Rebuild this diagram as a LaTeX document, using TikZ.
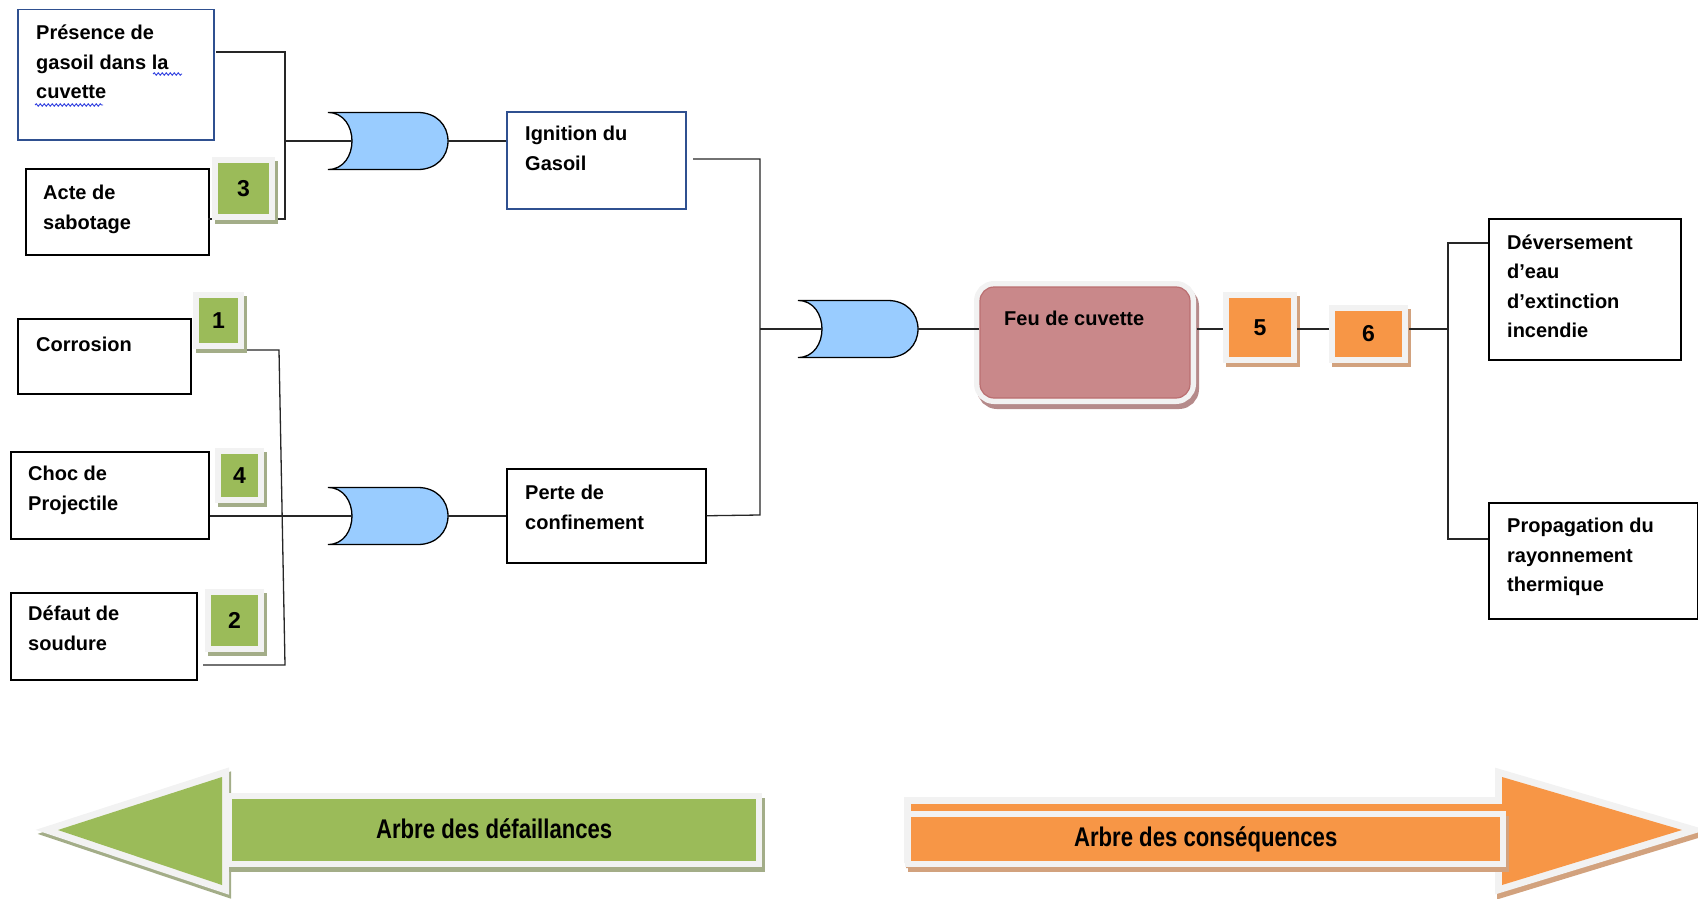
\documentclass[tikz,border=0pt]{standalone}
\usepackage{fontspec}
\setmainfont{Liberation Sans}
\newfontfamily\narrowfont[FakeStretch=0.82]{Liberation Sans}
\usetikzlibrary{decorations.pathmorphing}
\definecolor{gateblue}{HTML}{99CCFF}
\definecolor{boxblue}{HTML}{2F5090}
\definecolor{agreen}{HTML}{9BBB59}
\definecolor{aorange}{HTML}{F79646}
\definecolor{framegray}{HTML}{F2F2F2}
\definecolor{gshadow}{HTML}{A3AD88}
\definecolor{oshadow}{HTML}{D2A27E}
\definecolor{feupink}{HTML}{C9888A}
\definecolor{feuedge}{HTML}{BA6E70}
\definecolor{fshadow}{HTML}{B58A8A}
\definecolor{squig}{HTML}{3040E0}
\tikzset{
  wire/.style={draw=black!85, line width=1.3},
  box/.style={draw=black, line width=1.5, fill=white, inner sep=0, anchor=north west},
  bluebox/.style={box, draw=boxblue},
  txt/.style={inner sep=0, anchor=north west, align=left, font=\fontsize{20}{29.5}\selectfont\bfseries},
  badge/.style 2 args={inner sep=0, fill=#1, font=\fontsize{23}{23}\selectfont\bfseries,
    preaction={draw=#2, fill=#2, line width=12, transform canvas={xshift=3pt, yshift=-4pt}},
    preaction={draw=framegray, line width=12}},
  feubox/.style={inner sep=0, rounded corners=14, fill=feupink, draw=feuedge, line width=1.2,
    preaction={draw=fshadow, fill=fshadow, line width=12, transform canvas={xshift=3pt, yshift=-5pt}},
    preaction={draw=framegray, line width=12}},
  arrowbox/.style 2 args={inner sep=0, anchor=north west, fill=#1,
    font=\narrowfont\bfseries\fontsize{27}{30}\selectfont,
    preaction={draw=#2, fill=#2, line width=12, transform canvas={xshift=3pt, yshift=-5pt}},
    preaction={draw=framegray, line width=12}},
  arrowhead/.style={fill=#1, line join=miter, preaction={draw=framegray, line width=14, line join=miter}},
  headshadow/.style={fill=#1, draw=#1, line width=14, line join=miter},
  squiggle/.style={draw=squig, line width=0.9, decorate, decoration={snake, amplitude=1.2, segment length=4}},
  orgate/.pic={
    \path[fill=gateblue, draw=black, line width=1.3]
      (0,-28.5) -- (90,-28.5) .. controls (108,-28.5) and (120,-16) .. (120,0)
      .. controls (120,16) and (108,28.5) .. (90,28.5) -- (0,28.5)
      .. controls (16,28.5) and (24,14) .. (24,0)
      .. controls (24,-14) and (16,-28.5) .. (0,-28.5) -- cycle;
    \coordinate (-in) at (24,0);
    \coordinate (-out) at (120,0);
  }
}
\begin{document}
\begin{tikzpicture}[x=1pt, y=-1pt]
\path[use as bounding box] (0,0) rectangle (1698,899);

% ---------- boxes ----------
\node[bluebox, minimum width=196, minimum height=130] (pres) at (17,9) {};
\node[box, minimum width=183, minimum height=86] (acte) at (25,168) {};
\node[box, minimum width=173, minimum height=75] (corr) at (17,318) {};
\node[box, minimum width=198, minimum height=87] (choc) at (10,451) {};
\node[box, minimum width=186, minimum height=87] (def) at (10,592) {};
\node[bluebox, minimum width=179, minimum height=97] (ign) at (506,111) {};
\node[box, minimum width=199, minimum height=94] (perte) at (506,468) {};
\node[box, minimum width=192, minimum height=141] (dev) at (1488,218) {};
\node[box, minimum width=209, minimum height=116] (prop) at (1488,502) {};
\node[feubox, minimum width=210, minimum height=111] (feu) at (1085,342.5) {};

% ---------- texts ----------
\node[txt] (pres-t) at (36,25) {Présence de\\gasoil dans la\\cuvette};
\node[txt] (acte-t) at (43,185) {Acte de\\sabotage};
\node[txt] (corr-t) at (36,337) {Corrosion};
\node[txt] (choc-t) at (28,466) {Choc de\\Projectile};
\node[txt] (def-t) at (28,606) {Défaut de\\soudure};
\node[txt] (ign-t) at (525,126) {Ignition du\\Gasoil};
\node[txt] (perte-t) at (525,485) {Perte de\\confinement};
\node[txt] (feu-t) at (1004,310.5) {Feu de cuvette};
\node[txt] (dev-t) at (1507,234.5) {Déversement\\d’eau\\d’extinction\\incendie};
\node[txt] (prop-t) at (1507,518) {Propagation du\\rayonnement\\thermique};

% spell-check squiggles
\draw[squiggle] (153,74) -- (182,74);
\draw[squiggle] (35,105) -- (103,105);

% ---------- gates ----------
\pic (g1) at (328,141) {orgate};
\pic (g2) at (328,516) {orgate};
\pic (g3) at (798,329) {orgate};

% ---------- named points ----------
\coordinate (pres-out) at (216,52);
\coordinate (acte-out) at (208,219);
\coordinate (j1) at (285,141);
\coordinate (j1b) at (285,219);
\coordinate (c-a) at (247,350);
\coordinate (c-b) at (279,350);
\coordinate (c-c) at (285,665);
\coordinate (def-out) at (203,665);
\coordinate (ign-out) at (693,159);
\coordinate (j3) at (760,329);
\coordinate (j3b) at (760,515);
\coordinate (axis) at (0,329);
\coordinate (k1) at (1448,243);
\coordinate (k2) at (1448,539);
\coordinate (j6) at (1448,329);

% ---------- wires ----------
\draw[wire] (pres-out) -| (j1b) -- (acte-out);
\draw[wire] (j1) -- (g1-in);
\draw[wire] (g1-out) -- (ign.west |- g1-out);
\draw[wire] (c-a) -- (c-b) -- (c-c) -- (def-out);
\draw[wire] (choc.east |- g2-in) -- (g2-in);
\draw[wire] (g2-out) -- (perte.west |- g2-out);
\draw[wire] (ign-out) -| (j3b) -- (perte.east);
\draw[wire] (j3) -- (g3-in);
\draw[wire] (g3-out) -- (feu.west |- g3-out);

% ---------- badges ----------
\node[badge={agreen}{gshadow}, minimum width=51, minimum height=51] (b3) at (243.5,188.5) {3};
\node[badge={agreen}{gshadow}, minimum width=39, minimum height=45] (b1) at (218.5,320.5) {1};
\node[badge={agreen}{gshadow}, minimum width=37, minimum height=43] (b4) at (239.5,475.5) {4};
\node[badge={agreen}{gshadow}, minimum width=47, minimum height=51] (b2) at (234.5,620.5) {2};
\node[badge={aorange}{oshadow}, minimum width=62, minimum height=59] (b5) at (1260,327.5) {5};
\node[badge={aorange}{oshadow}, minimum width=67, minimum height=46] (b6) at (1368.5,334) {6};

\draw[wire] (feu.east |- axis) ++(6,0) -- ([xshift=-6]b5.west |- axis);
\draw[wire] ([xshift=6]b5.east |- axis) -- ([xshift=-6]b6.west |- axis);
\draw[wire] ([xshift=7]b6.east |- axis) -- (j6);
\draw[wire] (dev.west |- k1) -- (k1) -- (k2) -- (prop.west |- k2);

% ---------- bottom arrows ----------
\path[headshadow=gshadow, shift={(2,4)}] (58,830) -- (222,777) -- (222,885) -- cycle;
\path[arrowhead=agreen] (58,830) -- (222,777) -- (222,885) -- cycle;
\node[arrowbox={agreen}{gshadow}, minimum width=524, minimum height=62] (arrL) at (232,799) {\raisebox{3pt}{Arbre des défaillances}};

\path[headshadow=oshadow, shift={(2,5)}] (911,804) -- (1502,804) -- (1502,777) -- (1682,830) -- (1502,885) -- (1502,856) -- (911,856) -- cycle;
\path[arrowhead=aorange] (911,804) -- (1502,804) -- (1502,777) -- (1682,830) -- (1502,885) -- (1502,856) -- (911,856) -- cycle;
\node[arrowbox={aorange}{oshadow}, minimum width=589, minimum height=44] (arrR) at (911,817) {\raisebox{-2pt}{Arbre des conséquences}};
\end{tikzpicture}
\end{document}
